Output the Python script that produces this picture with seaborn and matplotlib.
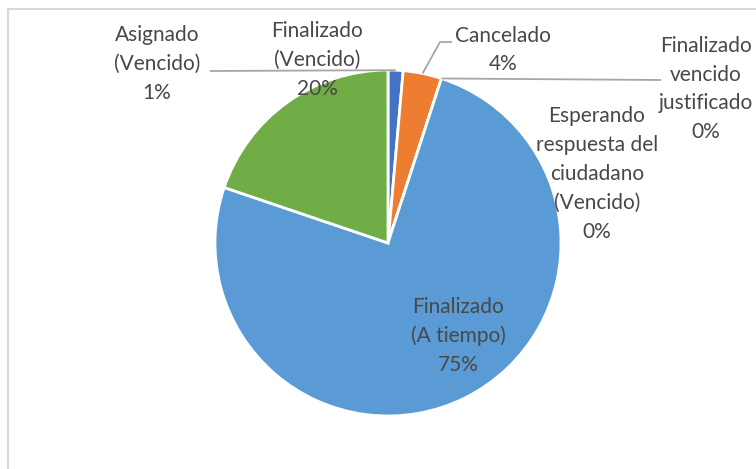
import numpy as np
import matplotlib
matplotlib.use("Agg")
import matplotlib.pyplot as plt
import seaborn as sns

# data
categories = ['Asignado\n(Vencido)', 'Cancelado', 'Finalizado\nvencido\njustificado',
              'Esperando\nrespuesta del\nciudadano\n(Vencido)', 'Finalizado\n(A tiempo)',
              'Finalizado\n(Vencido)']
counts = [14, 36, 0, 0, 752, 198]
colors = ['#4472C4', '#ED7D31', '#A5A5A5', '#FFC000', '#5B9BD5', '#70AD47']

sns.set_style('white')
plt.rcParams['font.family'] = ['Lato', 'DejaVu Sans']

W, H = 756, 469
fig = plt.figure(figsize=(W / 100, H / 100), dpi=100)
ax = fig.add_axes([0, 0, 1, 1])

cx, cy, r = 388, H - 243, 173
wedges, _ = ax.pie(counts, colors=colors, startangle=90, counterclock=False,
                   center=(cx, cy), radius=r, frame=True,
                   wedgeprops=dict(edgecolor='white', linewidth=2))
ax.set_xlim(0, W)
ax.set_ylim(0, H)
ax.set_aspect('equal')
ax.axis('off')

# chart border (only left and top visible)
ax.plot([7.5, 7.5], [0, H - 8.5], color='#d9d9d9', lw=1.5)
ax.plot([7.5, W], [H - 8.5, H - 8.5], color='#d9d9d9', lw=1.5)

total = sum(counts)
pcts = [c / total * 100 for c in counts]

# label centres in pixel coords (y from top)
label_pos = [(157, 64), (503, 50), (706, 89), (597, 174), (458, 336), (317, 60)]
text_color = '#484848'
for cat, p, (x, y) in zip(categories, pcts, label_pos):
    ax.text(x, H - y, f"{cat}\n{round(p):.0f}%", ha='center', va='center',
            fontsize=15, color=text_color, linespacing=1.55)


def edge_point(w, frac=0.5):
    ang = np.deg2rad(w.theta1 + (w.theta2 - w.theta1) * frac)
    return cx + r * np.cos(ang), cy + r * np.sin(ang)


line_kw = dict(color='#a6a6a6', lw=1.3, solid_capstyle='butt')
# Asignado leader
x0, y0 = edge_point(wedges[0])
ax.plot([x0, 210], [y0, H - 71], **line_kw)
# Cancelado leader
x0, y0 = edge_point(wedges[1])
ax.plot([x0, 440, 452], [y0, H - 42, H - 42], **line_kw)
# Finalizado vencido justificado leader
x0, y0 = edge_point(wedges[2])
ax.plot([x0, 661], [y0, H - 80], **line_kw)

fig.savefig('out.png', dpi=100)
